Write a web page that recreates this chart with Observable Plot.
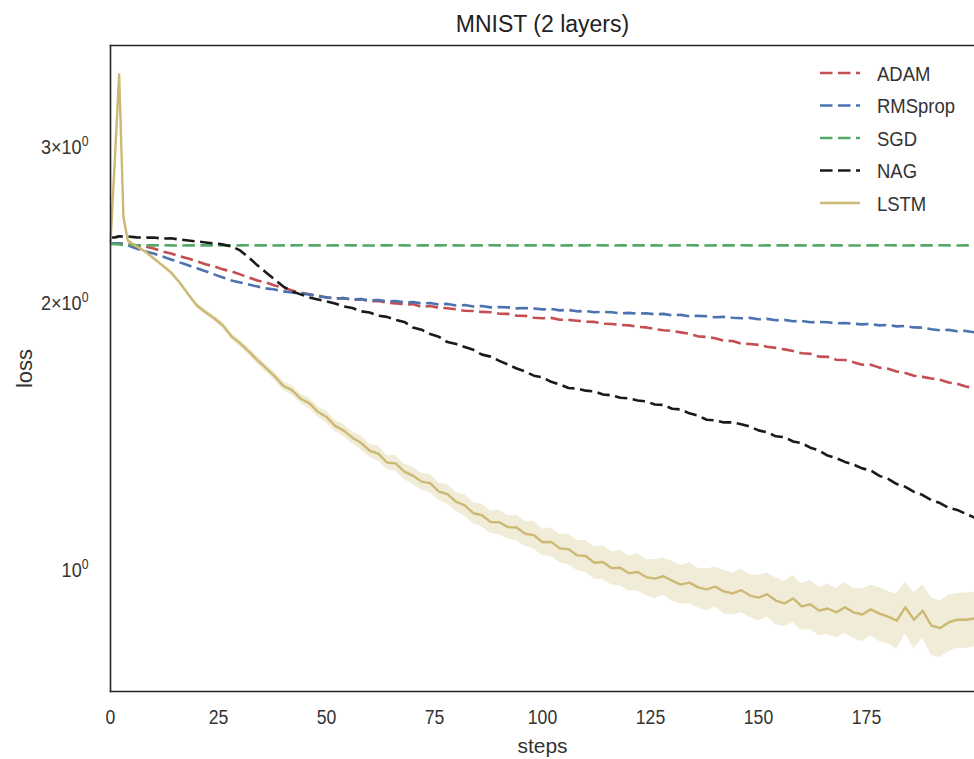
<!DOCTYPE html>
<html>
<head>
<meta charset="utf-8">
<script src="https://cdn.jsdelivr.net/npm/d3@7"></script>
<script src="https://cdn.jsdelivr.net/npm/@observablehq/plot@0.6"></script>
<style>
  html, body { margin: 0; padding: 0; background: #fff; }
</style>
</head>
<body>
<div id="chart"></div>
<script>
// ---------- data ----------
const steps = [0,1,2,3,4,6,8,10,12,14,16,18,20,22,24,26,28,30,32,34,36,38,40,42,44,46,48,50,52,54,56,58,60,62,64,66,68,70,72,74,76,78,80,82,84,86,88,90,92,94,96,98,100,102,104,106,108,110,112,114,116,118,120,122,124,126,128,130,132,134,136,138,140,142,144,146,148,150,152,154,156,158,160,162,164,166,168,170,172,174,176,178,180,182,184,186,188,190,192,194,196,198,200];

const seriesNames = ["ADAM", "RMSprop", "SGD", "NAG", "LSTM"];
const seriesColors = ["#C44E52", "#4C72B0", "#55A868", "#1a1a1a", "#CCB974"];

const ADAM = [
2.335,2.335,2.334,2.334,2.329,2.323,2.317,2.305,2.287,2.275,
2.258,2.246,2.229,2.212,2.200,2.183,2.172,2.155,2.138,2.121,
2.110,2.094,2.083,2.067,2.056,2.046,2.040,2.030,2.024,2.027,
2.017,2.021,2.009,2.011,2.002,1.999,1.993,1.995,1.981,1.985,
1.976,1.974,1.968,1.961,1.960,1.955,1.953,1.946,1.945,1.936,
1.935,1.926,1.923,1.925,1.916,1.915,1.911,1.906,1.905,1.896,
1.895,1.890,1.888,1.881,1.878,1.870,1.864,1.861,1.854,1.847,
1.835,1.832,1.826,1.814,1.813,1.800,1.799,1.795,1.786,1.781,
1.774,1.767,1.756,1.754,1.741,1.740,1.727,1.726,1.716,1.705,
1.705,1.692,1.687,1.675,1.669,1.657,1.652,1.645,1.640,1.628,
1.623,1.611,1.605];

const RMSprop = [
2.335,2.335,2.335,2.329,2.323,2.305,2.287,2.275,2.258,2.240,
2.223,2.206,2.189,2.172,2.155,2.138,2.121,2.110,2.099,2.088,
2.078,2.072,2.062,2.056,2.051,2.046,2.035,2.030,2.024,2.026,
2.019,2.021,2.014,2.016,2.009,2.011,2.004,2.006,1.998,2.001,
1.993,1.996,1.988,1.990,1.983,1.985,1.978,1.980,1.978,1.973,
1.975,1.972,1.968,1.970,1.963,1.965,1.958,1.960,1.953,1.955,
1.953,1.948,1.950,1.946,1.948,1.943,1.945,1.938,1.940,1.933,
1.935,1.933,1.928,1.930,1.926,1.923,1.925,1.918,1.920,1.913,
1.915,1.908,1.910,1.903,1.905,1.903,1.898,1.900,1.896,1.893,
1.895,1.888,1.890,1.883,1.885,1.878,1.877,1.869,1.864,1.866,
1.859,1.861,1.854];

const SGD = [
2.333,2.331,2.328,2.326,2.325,2.324,2.323,2.323,2.324,2.323,
2.322,2.323,2.323,2.324,2.323,2.323,2.322,2.323,2.324,2.323,
2.323,2.322,2.323,2.323,2.324,2.323,2.323,2.322,2.323,2.324,
2.323,2.323,2.322,2.323,2.323,2.324,2.323,2.322,2.323,2.323,
2.323,2.324,2.323,2.322,2.323,2.323,2.324,2.323,2.323,2.322,
2.323,2.323,2.324,2.323,2.322,2.323,2.323,2.323,2.324,2.323,
2.322,2.323,2.323,2.324,2.323,2.323,2.322,2.323,2.323,2.324,
2.323,2.322,2.323,2.323,2.323,2.324,2.323,2.322,2.323,2.323,
2.324,2.323,2.323,2.322,2.323,2.323,2.324,2.323,2.322,2.323,
2.323,2.323,2.324,2.323,2.322,2.323,2.323,2.323,2.324,2.323,
2.322,2.323,2.323];

const NAG = [
2.371,2.372,2.378,2.377,2.378,2.372,2.370,2.371,2.365,2.366,
2.359,2.353,2.347,2.341,2.335,2.329,2.317,2.293,2.252,2.206,
2.166,2.127,2.088,2.062,2.046,2.030,2.019,2.009,1.998,1.983,
1.975,1.958,1.952,1.936,1.930,1.915,1.905,1.878,1.867,1.846,
1.833,1.808,1.799,1.785,1.772,1.750,1.741,1.722,1.706,1.688,
1.675,1.657,1.650,1.631,1.620,1.605,1.603,1.594,1.591,1.578,
1.575,1.565,1.562,1.554,1.550,1.538,1.536,1.521,1.518,1.503,
1.494,1.478,1.476,1.468,1.468,1.461,1.452,1.438,1.431,1.416,
1.413,1.397,1.391,1.375,1.365,1.347,1.338,1.325,1.316,1.303,
1.296,1.278,1.268,1.251,1.242,1.226,1.216,1.200,1.191,1.176,
1.170,1.158,1.147];

const LSTM = [
2.335,2.90,3.62,2.50,2.353,2.317,2.287,2.246,2.206,2.166,
2.110,2.046,1.988,1.953,1.923,1.888,1.835,1.802,1.765,1.725,
1.690,1.655,1.614,1.596,1.561,1.543,1.509,1.489,1.455,1.437,
1.411,1.392,1.364,1.354,1.323,1.320,1.292,1.279,1.259,1.254,
1.227,1.219,1.195,1.184,1.160,1.154,1.134,1.133,1.119,1.118,
1.100,1.096,1.076,1.077,1.059,1.057,1.040,1.038,1.020,1.022,
1.006,1.007,0.993,0.996,0.983,0.979,0.985,0.974,0.964,0.969,
0.957,0.952,0.959,0.947,0.942,0.950,0.937,0.932,0.940,0.925,
0.918,0.930,0.911,0.916,0.901,0.906,0.897,0.909,0.897,0.892,
0.904,0.894,0.887,0.878,0.909,0.880,0.901,0.867,0.861,0.874,
0.880,0.880,0.883];

// spread (± loss) of the LSTM shaded band
const LSTM_sd = [
0.010,0.030,0.040,0.030,0.012,0.010,0.011,0.012,0.011,0.013,
0.012,0.014,0.013,0.015,0.014,0.016,0.015,0.017,0.016,0.018,
0.017,0.019,0.018,0.020,0.019,0.021,0.020,0.022,0.021,0.023,
0.022,0.025,0.023,0.026,0.024,0.027,0.026,0.029,0.027,0.030,
0.028,0.031,0.030,0.033,0.031,0.034,0.033,0.036,0.034,0.037,
0.036,0.039,0.037,0.040,0.039,0.042,0.040,0.043,0.042,0.045,
0.043,0.046,0.045,0.048,0.046,0.049,0.047,0.050,0.048,0.051,
0.049,0.052,0.050,0.053,0.051,0.054,0.052,0.055,0.053,0.056,
0.054,0.057,0.055,0.058,0.056,0.059,0.057,0.060,0.058,0.061,
0.059,0.062,0.060,0.063,0.061,0.064,0.062,0.065,0.063,0.064,
0.062,0.063,0.062];

const xTicks = [0, 25, 50, 75, 100, 125, 150, 175];
const yTicks = [1, 2, 3];
const yTickText = ["10", "2×10", "3×10"];
const titleText = "MNIST (2 layers)";
const xLabel = "steps";
const yLabel = "loss";

// ---------- build tables ----------
const table = {ADAM, RMSprop, SGD, NAG, LSTM, LSTM_sd};
for (const k in table) {
  if (table[k].length !== steps.length) throw new Error(k + " has " + table[k].length + " values, expected " + steps.length);
}
const rows = seriesNames.flatMap(name => steps.map((s, i) => ({series: name, step: s, loss: table[name][i]})));
const band = steps.map((s, i) => ({step: s, lo: LSTM[i] - LSTM_sd[i], hi: LSTM[i] + LSTM_sd[i]}));

const FONT = "'Liberation Sans',Arial,sans-serif";
const DASH = "12.5,5.5";

const plot = Plot.plot({
  width: 974,
  height: 759,
  marginTop: 45,
  marginBottom: 68,
  marginLeft: 110,
  marginRight: 0,
  style: {fontFamily: FONT, fontSize: "21px", color: "#333", background: "#fff", overflow: "hidden"},
  x: {domain: [0, 200], label: null},
  y: {type: "log", domain: [0.7306, 3.901], label: null},
  marks: [
    Plot.areaY(band, {x: "step", y1: "lo", y2: "hi", fill: "#CCB974", fillOpacity: 0.28}),
    ...seriesNames.map((name, k) => Plot.line(rows.filter(r => r.series === name), {
      x: "step", y: "loss",
      stroke: seriesColors[k],
      strokeWidth: name === "LSTM" ? 2.4 : 2.6,
      strokeDasharray: name === "LSTM" ? undefined : DASH,
      strokeLinecap: "butt"
    })),
    Plot.frame({anchor: "left", stroke: "#262626", strokeWidth: 1.6}),
    Plot.frame({anchor: "top", stroke: "#262626", strokeWidth: 1.6}),
    Plot.frame({anchor: "bottom", stroke: "#262626", strokeWidth: 1.6}),
    Plot.axisX({ticks: xTicks, tickSize: 0, tickPadding: 18, fontSize: 21, label: null, ariaLabel: "x-axis"}),
    Plot.axisY({ticks: yTicks, tickSize: 0, tickPadding: 22, fontSize: 21, label: null, ariaLabel: "y-axis",
      tickFormat: d => yTickText[yTicks.indexOf(d)]}),
    Plot.text([titleText], {text: d => d, frameAnchor: "top", lineAnchor: "middle", dy: -21, fontSize: 23, fill: "#222", ariaLabel: "title"}),
    Plot.text([xLabel], {text: d => d, frameAnchor: "bottom", lineAnchor: "middle", dy: 55, fontSize: 21, fill: "#333", ariaLabel: "xlabel"}),
    Plot.text([yLabel], {text: d => d, frameAnchor: "left", textAnchor: "middle", lineAnchor: "middle", dx: -86, rotate: -90, fontSize: 22, fill: "#333", ariaLabel: "ylabel"})
  ]
});

const svg = d3.select(plot);

// horizontally condense text (reference glyphs are narrow)
function squeeze(sel, s) {
  sel.each(function() {
    const t = this.getAttribute("transform");
    if (t) {
      this.setAttribute("transform", t + ` scale(${s},1)`);
    } else {
      const x = +this.getAttribute("x") || 0, y = +this.getAttribute("y") || 0;
      this.removeAttribute("x"); this.removeAttribute("y");
      this.setAttribute("transform", `translate(${x},${y}) scale(${s},1)`);
    }
  });
}

// superscript exponent on the log-axis tick labels
const yLabels = svg.selectAll('g[aria-label="y-axis tick label"] text');
yLabels.each(function() {
  d3.select(this).append("tspan").attr("dy", "-0.55em").attr("font-size", "0.68em").text("0");
});
squeeze(yLabels, 0.86);
squeeze(svg.selectAll('g[aria-label="x-axis tick label"] text'), 0.84);

// legend (top-right, inside the axes, no frame)
const lg = svg.append("g").attr("font-family", FONT).attr("font-size", 21).attr("fill", "#333").attr("text-anchor", "start");
seriesNames.forEach((name, k) => {
  const y = 73 + 32.5 * k;
  lg.append("line")
    .attr("x1", 820).attr("x2", 860).attr("y1", y).attr("y2", y)
    .attr("stroke", seriesColors[k])
    .attr("stroke-width", name === "LSTM" ? 2.4 : 2.6)
    .attr("stroke-dasharray", name === "LSTM" ? null : DASH);
  lg.append("text").attr("x", 877).attr("y", y).attr("dy", "0.36em").attr("text-anchor", "start").text(name);
});
squeeze(lg.selectAll("text"), 0.88);

document.getElementById("chart").appendChild(plot);
</script>
</body>
</html>
